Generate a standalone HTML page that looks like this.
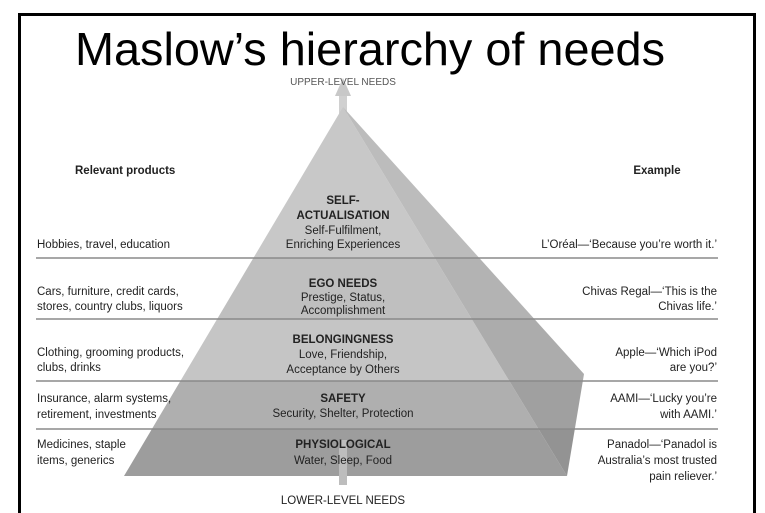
<!DOCTYPE html>
<html><head><meta charset="utf-8"><style>
body{margin:0;background:#fff;}
svg{display:block;}
text{font-family:"Liberation Sans Narrow","Liberation Sans",sans-serif;font-size:11.5px;fill:#222;}
.b{font-weight:bold;}
.t{font-family:"Liberation Sans",sans-serif;font-size:46px;fill:#000;}
</style></head><body>
<svg width="765" height="513" viewBox="0 0 765 513">
<rect x="0" y="0" width="765" height="513" fill="#fff"/>
<path d="M19.5 513 V14.5 H754.5 V513" fill="none" stroke="#000" stroke-width="3"/>
<rect x="339" y="95" width="8" height="390" fill="#d0d0d0"/>
<polygon points="343,78 335,96 351,96" fill="#c8c8c8"/>
<defs>
<clipPath id="tri"><polygon points="343,107 124,476 567,476"/></clipPath>
<clipPath id="side"><polygon points="343,107 584,374 567,476"/></clipPath>
</defs>
<g clip-path="url(#tri)">
<rect x="100" y="100" width="500" height="158" fill="#c8c8c8"/>
<rect x="100" y="258" width="500" height="61" fill="#bfbfbf"/>
<rect x="100" y="319" width="500" height="62" fill="#c5c5c5"/>
<rect x="100" y="381" width="500" height="48" fill="#afafaf"/>
<rect x="100" y="429" width="500" height="50" fill="#9d9d9d"/>
</g>
<g clip-path="url(#side)">
<rect x="330" y="100" width="300" height="158" fill="#bcbcbc"/>
<rect x="330" y="258" width="300" height="61" fill="#b3b3b3"/>
<rect x="330" y="319" width="300" height="62" fill="#acacac"/>
<rect x="330" y="381" width="300" height="48" fill="#a0a0a0"/>
<rect x="330" y="429" width="300" height="50" fill="#939393"/>
</g>
<rect x="339" y="440" width="8" height="45" fill="#bdbdbd"/>
<g stroke="#8a8a8a" stroke-width="1.5">
<line x1="36" y1="258" x2="718" y2="258"/>
<line x1="36" y1="319" x2="718" y2="319"/>
<line x1="36" y1="381" x2="718" y2="381"/>
<line x1="36" y1="429" x2="718" y2="429"/>
</g>
<text class="t" x="75" y="65" textLength="590" lengthAdjust="spacingAndGlyphs">Maslow’s hierarchy of needs</text>
<text x="343" y="85" text-anchor="middle" style="font-size:10px;fill:#555">UPPER-LEVEL NEEDS</text>
<text x="343" y="504" text-anchor="middle">LOWER-LEVEL NEEDS</text>
<text class="b" x="75" y="174">Relevant products</text>
<text class="b" x="657" y="174" text-anchor="middle">Example</text>
<g text-anchor="middle">
<text class="b" x="343" y="204">SELF-</text>
<text class="b" x="343" y="219">ACTUALISATION</text>
<text x="343" y="234">Self-Fulfilment,</text>
<text x="343" y="248">Enriching Experiences</text>
<text class="b" x="343" y="287">EGO NEEDS</text>
<text x="343" y="301">Prestige, Status,</text>
<text x="343" y="314">Accomplishment</text>
<text class="b" x="343" y="343">BELONGINGNESS</text>
<text x="343" y="358">Love, Friendship,</text>
<text x="343" y="373">Acceptance by Others</text>
<text class="b" x="343" y="402">SAFETY</text>
<text x="343" y="417">Security, Shelter, Protection</text>
<text class="b" x="343" y="448">PHYSIOLOGICAL</text>
<text x="343" y="464">Water, Sleep, Food</text>
</g>
<text x="37" y="248">Hobbies, travel, education</text>
<text x="37" y="295">Cars, furniture, credit cards,</text>
<text x="37" y="310">stores, country clubs, liquors</text>
<text x="37" y="356">Clothing, grooming products,</text>
<text x="37" y="371">clubs, drinks</text>
<text x="37" y="402">Insurance, alarm systems,</text>
<text x="37" y="418">retirement, investments</text>
<text x="37" y="448">Medicines, staple</text>
<text x="37" y="464">items, generics</text>
<g text-anchor="end">
<text x="717" y="248">L’Oréal—‘Because you’re worth it.’</text>
<text x="717" y="295">Chivas Regal—‘This is the</text>
<text x="717" y="310">Chivas life.’</text>
<text x="717" y="356">Apple—‘Which iPod</text>
<text x="717" y="371">are you?’</text>
<text x="717" y="402">AAMI—‘Lucky you’re</text>
<text x="717" y="418">with AAMI.’</text>
<text x="717" y="448">Panadol—‘Panadol is</text>
<text x="717" y="464">Australia’s most trusted</text>
<text x="717" y="480">pain reliever.’</text>
</g>
</svg>
</body></html>
